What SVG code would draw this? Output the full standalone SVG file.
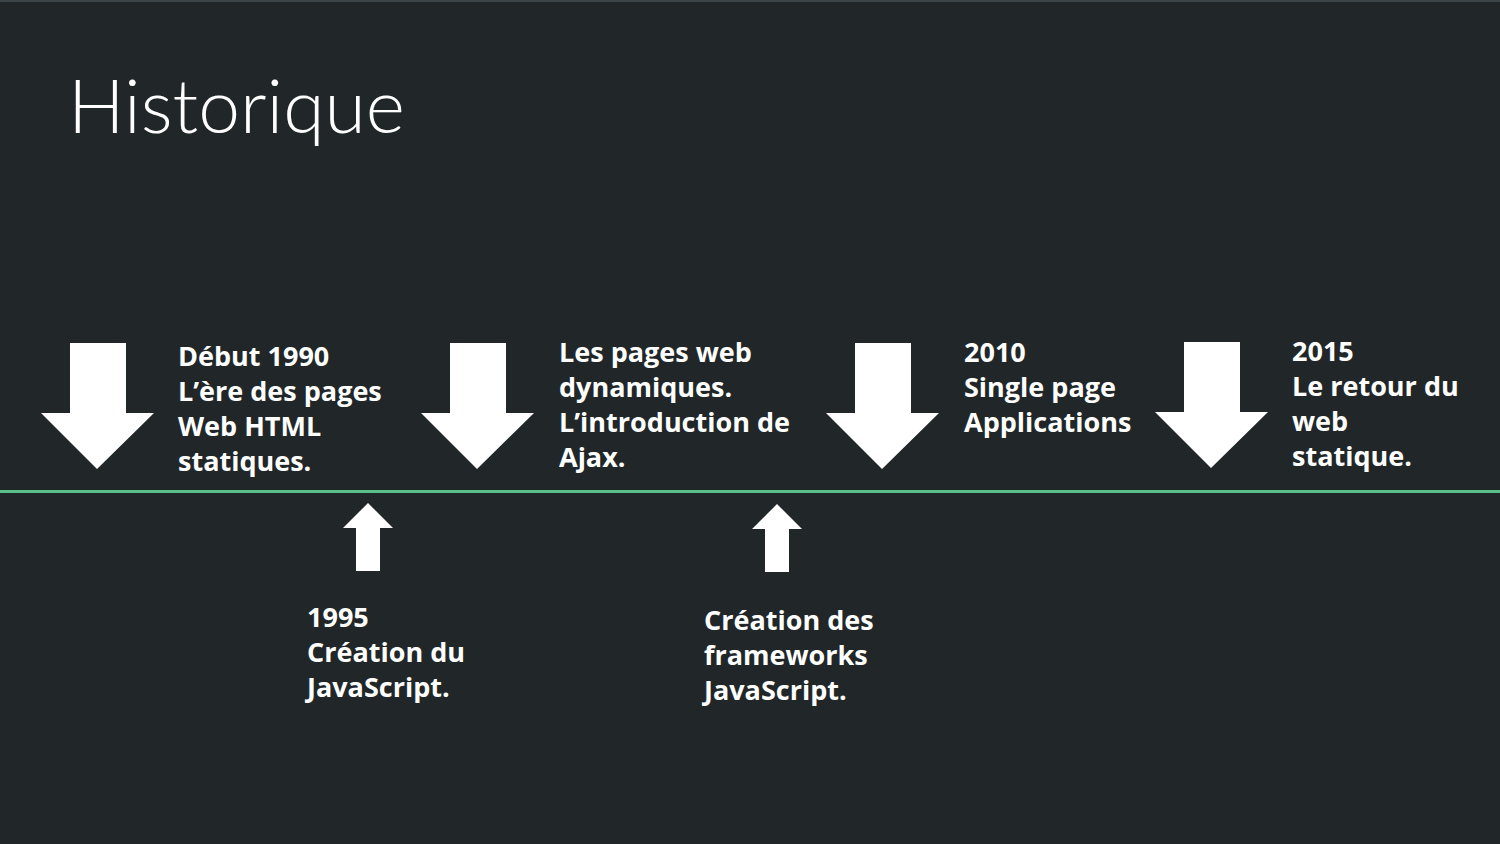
<svg xmlns="http://www.w3.org/2000/svg" width="1500" height="844" viewBox="0 0 1500 844">
<style>
.t{font-family:"Open Sans","Liberation Sans",sans-serif;font-weight:700;font-size:27px;fill:#ffffff;font-variant-ligatures:none}
.title{font-family:Lato,"Liberation Sans",sans-serif;font-weight:300;font-size:75px;fill:#ffffff}
.arr{fill:#ffffff}
</style>
<defs>
<path id="down" d="M-27,0 H29 V70 H57 L0,126 L-56,70 H-27 Z"/>
<path id="up" d="M0,0 L25,25 H12 V68 H-12 V25 H-25 Z"/>
</defs>
<rect width="1500" height="844" fill="#212729"/>
<rect width="1500" height="2" fill="#3c4447"/>
<text class="title" x="68" y="133">Historique</text>
<g id="connectors">
<rect x="0" y="490" width="1500" height="3" fill="#5bbf8a"/>
</g>
<g id="node-1990">
<use href="#down" class="arr" x="97" y="343"/>
<text class="t"><tspan x="178" y="366">Début 1990</tspan><tspan x="178" y="401">L’ère des pages</tspan><tspan x="178" y="436">Web HTML</tspan><tspan x="178" y="471">statiques.</tspan></text>
</g>
<g id="node-1995">
<use href="#up" class="arr" x="368" y="503"/>
<text class="t"><tspan x="307" y="627">1995</tspan><tspan x="307" y="662">Création du</tspan><tspan x="307" y="697">JavaScript.</tspan></text>
</g>
<g id="node-ajax">
<use href="#down" class="arr" x="477" y="343"/>
<text class="t"><tspan x="559" y="362">Les pages web</tspan><tspan x="559" y="397">dynamiques.</tspan><tspan x="559" y="432">L’introduction de</tspan><tspan x="559" y="467">Ajax.</tspan></text>
</g>
<g id="node-frameworks">
<use href="#up" class="arr" x="777" y="504"/>
<text class="t"><tspan x="704" y="630">Création des</tspan><tspan x="704" y="665">frameworks</tspan><tspan x="704" y="700">JavaScript.</tspan></text>
</g>
<g id="node-2010">
<use href="#down" class="arr" x="882" y="343"/>
<text class="t"><tspan x="964" y="362">2010</tspan><tspan x="964" y="397">Single page</tspan><tspan x="964" y="432">Applications</tspan></text>
</g>
<g id="node-2015">
<use href="#down" class="arr" x="1211" y="342"/>
<text class="t"><tspan x="1292" y="361">2015</tspan><tspan x="1292" y="396">Le retour du</tspan><tspan x="1292" y="431">web</tspan><tspan x="1292" y="466">statique.</tspan></text>
</g>
</svg>
